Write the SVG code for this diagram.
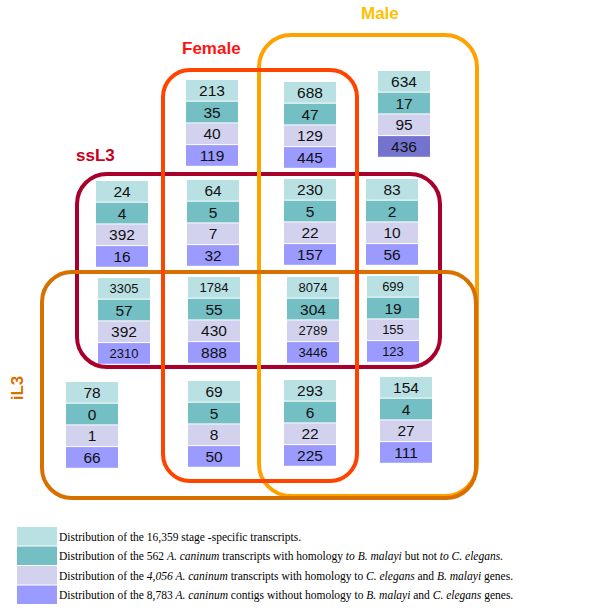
<svg xmlns="http://www.w3.org/2000/svg" width="600" height="611" viewBox="0 0 600 611">
<style>
.c1{fill:#b9e1e3}.c2{fill:#73bfc4}.c3{fill:#d2d2ee}.c4{fill:#9b9bff}.c4d{fill:#7474d0}
.n{font-family:"Liberation Sans",Arial,sans-serif;font-size:15.5px;fill:#111;text-anchor:middle}
.s{font-size:13px}
.set{fill:none;stroke-width:4}
.lab{font-family:"Liberation Sans",Arial,sans-serif;font-size:17px;font-weight:bold}
.lg{font-family:"Liberation Serif","Times New Roman",serif;font-size:11.5px;fill:#000}
.i{font-style:italic}
</style>
<rect width="600" height="611" fill="#fff"/>

<g id="stacks">
<g id="s-F" transform="translate(186,80)">
<rect class="c1" width="52" height="20.7"/><rect class="c2" y="21.7" width="52" height="20.7"/><rect class="c3" y="43.4" width="52" height="20.7"/><rect class="c4" y="65.1" width="52" height="20.7"/>
<text class="n" x="26" y="16">213</text><text class="n" x="26" y="37.7">35</text><text class="n" x="26" y="59.4">40</text><text class="n" x="26" y="81.1">119</text>
</g>
<g id="s-FM" transform="translate(284,82)">
<rect class="c1" width="52" height="20.7"/><rect class="c2" y="21.7" width="52" height="20.7"/><rect class="c3" y="43.4" width="52" height="20.7"/><rect class="c4" y="65.1" width="52" height="20.7"/>
<text class="n" x="26" y="16">688</text><text class="n" x="26" y="37.7">47</text><text class="n" x="26" y="59.4">129</text><text class="n" x="26" y="81.1">445</text>
</g>
<g id="s-M" transform="translate(378,71)">
<rect class="c1" width="52" height="20.7"/><rect class="c2" y="21.7" width="52" height="20.7"/><rect class="c3" y="43.4" width="52" height="20.7"/><rect class="c4d" y="65.1" width="52" height="20.7"/>
<text class="n" x="26" y="16">634</text><text class="n" x="26" y="37.7">17</text><text class="n" x="26" y="59.4">95</text><text class="n" x="26" y="81.1">436</text>
</g>

<g id="s-S" transform="translate(96,181)">
<rect class="c1" width="52" height="20.7"/><rect class="c2" y="21.7" width="52" height="20.7"/><rect class="c3" y="43.4" width="52" height="20.7"/><rect class="c4" y="65.1" width="52" height="20.7"/>
<text class="n" x="26" y="16">24</text><text class="n" x="26" y="37.7">4</text><text class="n" x="26" y="59.4">392</text><text class="n" x="26" y="81.1">16</text>
</g>
<g id="s-SF" transform="translate(187,180)">
<rect class="c1" width="52" height="20.7"/><rect class="c2" y="21.7" width="52" height="20.7"/><rect class="c3" y="43.4" width="52" height="20.7"/><rect class="c4" y="65.1" width="52" height="20.7"/>
<text class="n" x="26" y="16">64</text><text class="n" x="26" y="37.7">5</text><text class="n" x="26" y="59.4">7</text><text class="n" x="26" y="81.1">32</text>
</g>
<g id="s-SFM" transform="translate(284,179)">
<rect class="c1" width="52" height="20.7"/><rect class="c2" y="21.7" width="52" height="20.7"/><rect class="c3" y="43.4" width="52" height="20.7"/><rect class="c4" y="65.1" width="52" height="20.7"/>
<text class="n" x="26" y="16">230</text><text class="n" x="26" y="37.7">5</text><text class="n" x="26" y="59.4">22</text><text class="n" x="26" y="81.1">157</text>
</g>
<g id="s-SM" transform="translate(366,179)">
<rect class="c1" width="52" height="20.7"/><rect class="c2" y="21.7" width="52" height="20.7"/><rect class="c3" y="43.4" width="52" height="20.7"/><rect class="c4" y="65.1" width="52" height="20.7"/>
<text class="n" x="26" y="16">83</text><text class="n" x="26" y="37.7">2</text><text class="n" x="26" y="59.4">10</text><text class="n" x="26" y="81.1">56</text>
</g>

<g id="s-SI" transform="translate(98,278)">
<rect class="c1" width="52" height="20.7"/><rect class="c2" y="21.7" width="52" height="20.7"/><rect class="c3" y="43.4" width="52" height="20.7"/><rect class="c4" y="65.1" width="52" height="20.7"/>
<text class="n s" x="26" y="15">3305</text><text class="n" x="26" y="37.7">57</text><text class="n" x="26" y="59.4">392</text><text class="n s" x="26" y="80">2310</text>
</g>
<g id="s-SIF" transform="translate(188,277)">
<rect class="c1" width="52" height="20.7"/><rect class="c2" y="21.7" width="52" height="20.7"/><rect class="c3" y="43.4" width="52" height="20.7"/><rect class="c4" y="65.1" width="52" height="20.7"/>
<text class="n s" x="26" y="15">1784</text><text class="n" x="26" y="37.7">55</text><text class="n" x="26" y="59.4">430</text><text class="n" x="26" y="81.1">888</text>
</g>
<g id="s-SIFM" transform="translate(287,277)">
<rect class="c1" width="52" height="20.7"/><rect class="c2" y="21.7" width="52" height="20.7"/><rect class="c3" y="43.4" width="52" height="20.7"/><rect class="c4" y="65.1" width="52" height="20.7"/>
<text class="n s" x="26" y="15">8074</text><text class="n" x="26" y="37.7">304</text><text class="n s" x="26" y="58.4">2789</text><text class="n s" x="26" y="80">3446</text>
</g>
<g id="s-SIM" transform="translate(367,276)">
<rect class="c1" width="52" height="20.7"/><rect class="c2" y="21.7" width="52" height="20.7"/><rect class="c3" y="43.4" width="52" height="20.7"/><rect class="c4" y="65.1" width="52" height="20.7"/>
<text class="n s" x="26" y="15">699</text><text class="n" x="26" y="37.7">19</text><text class="n s" x="26" y="58.4">155</text><text class="n s" x="26" y="80">123</text>
</g>

<g id="s-I" transform="translate(66,382)">
<rect class="c1" width="52" height="20.7"/><rect class="c2" y="21.7" width="52" height="20.7"/><rect class="c3" y="43.4" width="52" height="20.7"/><rect class="c4" y="65.1" width="52" height="20.7"/>
<text class="n" x="26" y="16">78</text><text class="n" x="26" y="37.7">0</text><text class="n" x="26" y="59.4">1</text><text class="n" x="26" y="81.1">66</text>
</g>
<g id="s-IF" transform="translate(188,381)">
<rect class="c1" width="52" height="20.7"/><rect class="c2" y="21.7" width="52" height="20.7"/><rect class="c3" y="43.4" width="52" height="20.7"/><rect class="c4" y="65.1" width="52" height="20.7"/>
<text class="n" x="26" y="16">69</text><text class="n" x="26" y="37.7">5</text><text class="n" x="26" y="59.4">8</text><text class="n" x="26" y="81.1">50</text>
</g>
<g id="s-IFM" transform="translate(284,380)">
<rect class="c1" width="52" height="20.7"/><rect class="c2" y="21.7" width="52" height="20.7"/><rect class="c3" y="43.4" width="52" height="20.7"/><rect class="c4" y="65.1" width="52" height="20.7"/>
<text class="n" x="26" y="16">293</text><text class="n" x="26" y="37.7">6</text><text class="n" x="26" y="59.4">22</text><text class="n" x="26" y="81.1">225</text>
</g>
<g id="s-IM" transform="translate(380,377)">
<rect class="c1" width="52" height="20.7"/><rect class="c2" y="21.7" width="52" height="20.7"/><rect class="c3" y="43.4" width="52" height="20.7"/><rect class="c4" y="65.1" width="52" height="20.7"/>
<text class="n" x="26" y="16">154</text><text class="n" x="26" y="37.7">4</text><text class="n" x="26" y="59.4">27</text><text class="n" x="26" y="81.1">111</text>
</g>
</g>

<g id="set-ssL3">
<rect class="set" x="77" y="174" width="363" height="193" rx="30" stroke="#a8002a"/>
<text class="lab" x="76" y="161" fill="#c8001e">ssL3</text>
</g>
<g id="set-Male">
<rect class="set" x="259" y="35" width="218" height="461" rx="32" stroke="#ffa200"/>
<text class="lab" x="361" y="19" fill="#ffbf00">Male</text>
</g>
<g id="set-iL3">
<rect class="set" x="42" y="272" width="434" height="226" rx="30" stroke="#d87000"/>
<text class="lab" transform="translate(23,388) rotate(-90)" text-anchor="middle" fill="#d87000">iL3</text>
</g>
<g id="set-Female">
<rect class="set" x="163" y="70" width="194" height="411" rx="27" stroke="#ff4400"/>
<text class="lab" x="182" y="54" fill="#ff1414">Female</text>
</g>

<g id="legend">
<rect class="c1" x="17" y="527" width="40" height="18.5"/>
<rect class="c2" x="17" y="546.5" width="40" height="18.5"/>
<rect class="c3" x="17" y="566" width="40" height="18.5"/>
<rect class="c4" x="17" y="585.5" width="40" height="18.5"/>
<text class="lg" x="59" y="541">Distribution of the 16,359 stage -specific transcripts.</text>
<text class="lg" x="59" y="560">Distribution of the 562 <tspan class="i">A. caninum</tspan> transcripts with homology <tspan class="i">to B. malayi</tspan> but not <tspan class="i">to C. elegans.</tspan></text>
<text class="lg" x="59" y="580">Distribution of the <tspan class="i">4,056 A. caninum</tspan> transcripts with homology to <tspan class="i">C. elegans</tspan> and <tspan class="i">B. malayi</tspan>  genes.</text>
<text class="lg" x="59" y="599">Distribution of the 8,783 <tspan class="i">A.  caninum</tspan> contigs without homology to <tspan class="i">B.  malayi</tspan> and <tspan class="i">C. elegans</tspan> genes.</text>
</g>
</svg>
